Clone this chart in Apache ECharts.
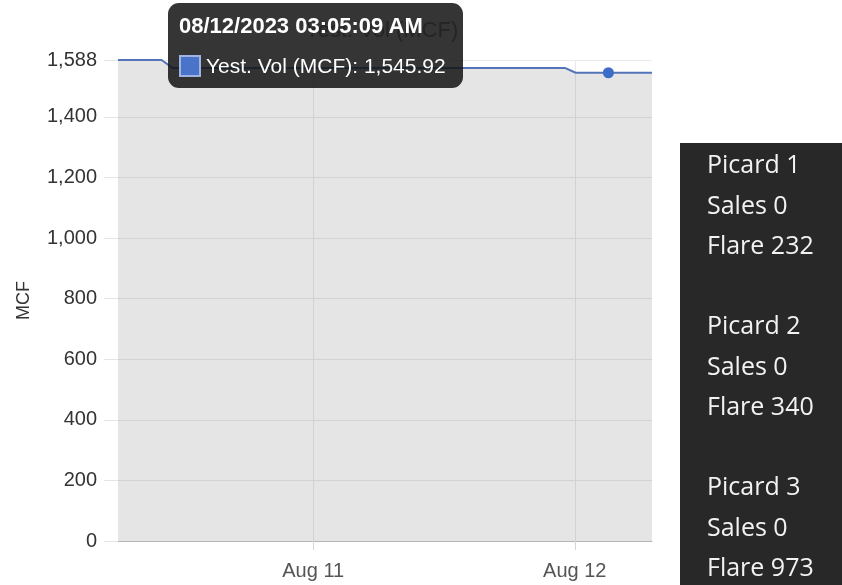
<!DOCTYPE html>
<html>
<head>
<meta charset="utf-8">
<script src="https://cdn.jsdelivr.net/npm/echarts@6/dist/echarts.min.js"></script>
<style>
  html, body { margin: 0; padding: 0; background: #fff; }
  #chart { width: 842px; height: 585px; }
</style>
</head>
<body>
<div id="chart"></div>
<script>
// sample times and yesterday volume (MCF)
var times = ['2023-08-10 06:05:09', '2023-08-10 10:05:09', '2023-08-10 11:05:09',
             '2023-08-11 23:05:09', '2023-08-12 00:05:09', '2023-08-12 03:05:09',
             '2023-08-12 07:05:09'];
var volumes = [1588, 1588, 1562, 1562, 1545.92, 1545.92, 1545.92];
var yMax = 1588;
var hoverIndex = 5;

// side panel
var wells = ['Picard 1', 'Picard 2', 'Picard 3'];
var sales = [0, 0, 0];
var flare = [232, 340, 973];

function pad(n) { return (n < 10 ? '0' : '') + n; }
function tipDate(s) {
    var p = s.split(' ');
    var d = p[0].split('-');
    var t = p[1].split(':');
    var h = +t[0];
    var ap = h < 12 ? 'AM' : 'PM';
    var h12 = h % 12 === 0 ? 12 : h % 12;
    return d[1] + '/' + d[2] + '/' + d[0] + ' ' + pad(h12) + ':' + t[1] + ':' + t[2] + ' ' + ap;
}
function commas(v) {
    return v.toLocaleString('en-US', { minimumFractionDigits: 2, maximumFractionDigits: 2 });
}

var seriesData = times.map(function (t, i) { return [t, volumes[i]]; });

// panel texts
var panel = [{
    type: 'rect',
    shape: { x: 680, y: 143, width: 162, height: 442 },
    style: { fill: '#282828' }
}];
wells.forEach(function (w, i) {
    [w, 'Sales ' + sales[i], 'Flare ' + flare[i]].forEach(function (txt, j) {
        panel.push({
            type: 'text',
            x: 707,
            y: 166 + i * 161 + j * 40.5,
            style: {
                text: txt,
                fill: '#f2f2f2',
                font: '25px "Open Sans", "Noto Sans", sans-serif',
                verticalAlign: 'middle'
            }
        });
    });
});

var chart = echarts.init(document.getElementById('chart'));
chart.setOption({
    animation: false,
    title: {
        text: 'Yest. Vol (MCF)',
        left: 300,
        top: 15,
        textStyle: { color: '#888', fontSize: 22, fontWeight: 'normal', fontFamily: 'Liberation Sans' }
    },
    grid: { left: 118, right: 190, top: 60, bottom: 44 },
    tooltip: {
        trigger: 'axis',
        triggerOn: 'none',
        alwaysShowContent: true,
        axisPointer: { type: 'none' },
        position: [168, 3],
        backgroundColor: 'rgba(20,20,20,0.86)',
        borderWidth: 0,
        padding: [6, 12, 7, 11],
        extraCssText: 'border-radius:11px;box-shadow:none;',
        textStyle: { color: '#fff', fontSize: 21, fontFamily: 'Liberation Sans' },
        formatter: function (params) {
            var i = params[0].dataIndex;
            return '<div style="width:272px;font-weight:bold;font-size:22px;line-height:34px;white-space:nowrap;">' +
                tipDate(times[i]) + '</div>' +
                '<div style="margin-top:8px;line-height:30px;white-space:nowrap;">' +
                '<span style="display:inline-block;box-sizing:border-box;width:22px;height:22px;background:#4a74c9;' +
                'border:2px solid #9fb4e0;vertical-align:-4px;margin-right:5px;"></span>' +
                'Yest. Vol (MCF): ' + commas(volumes[i]) + '</div>';
        }
    },
    xAxis: {
        type: 'time',
        min: times[0],
        max: times[times.length - 1],
        minInterval: 86400000,
        maxInterval: 86400000,
        axisLine: { lineStyle: { color: '#b5b5b5', width: 1 } },
        axisTick: { show: true, length: 9, lineStyle: { color: '#d6d6d6' } },
        splitLine: { show: true, showMinLine: false, showMaxLine: false, lineStyle: { color: '#eaeaea' } },
        axisLabel: {
            color: '#555',
            fontSize: 20,
            fontFamily: 'Liberation Sans',
            margin: 20,
            showMinLabel: false,
            showMaxLabel: false,
            formatter: '{MMM} {d}'
        }
    },
    yAxis: {
        type: 'value',
        name: 'MCF',
        nameLocation: 'middle',
        nameGap: 85,
        nameTextStyle: { color: '#333', fontSize: 18, fontFamily: 'Liberation Sans' },
        min: 0,
        max: yMax,
        interval: 200,
        axisLine: { show: false },
        axisTick: { show: true, length: 14, lineStyle: { color: '#e4e4e4' } },
        splitLine: { show: true, lineStyle: { color: '#eaeaea' } },
        axisLabel: { color: '#333', fontSize: 20, fontFamily: 'Liberation Sans', margin: 21 }
    },
    graphic: panel,
    series: [{
        name: 'Yest. Vol (MCF)',
        type: 'line',
        data: seriesData,
        showSymbol: false,
        symbol: 'circle',
        symbolSize: 11,
        itemStyle: { color: '#3c6cc6' },
        lineStyle: { color: '#4c6aa8', width: 2 },
        areaStyle: { color: 'rgba(0,0,0,0.1)', opacity: 1 },
        emphasis: { scale: false, focus: 'none' }
    }]
});
chart.dispatchAction({ type: 'showTip', seriesIndex: 0, dataIndex: hoverIndex });
</script>
</body>
</html>
